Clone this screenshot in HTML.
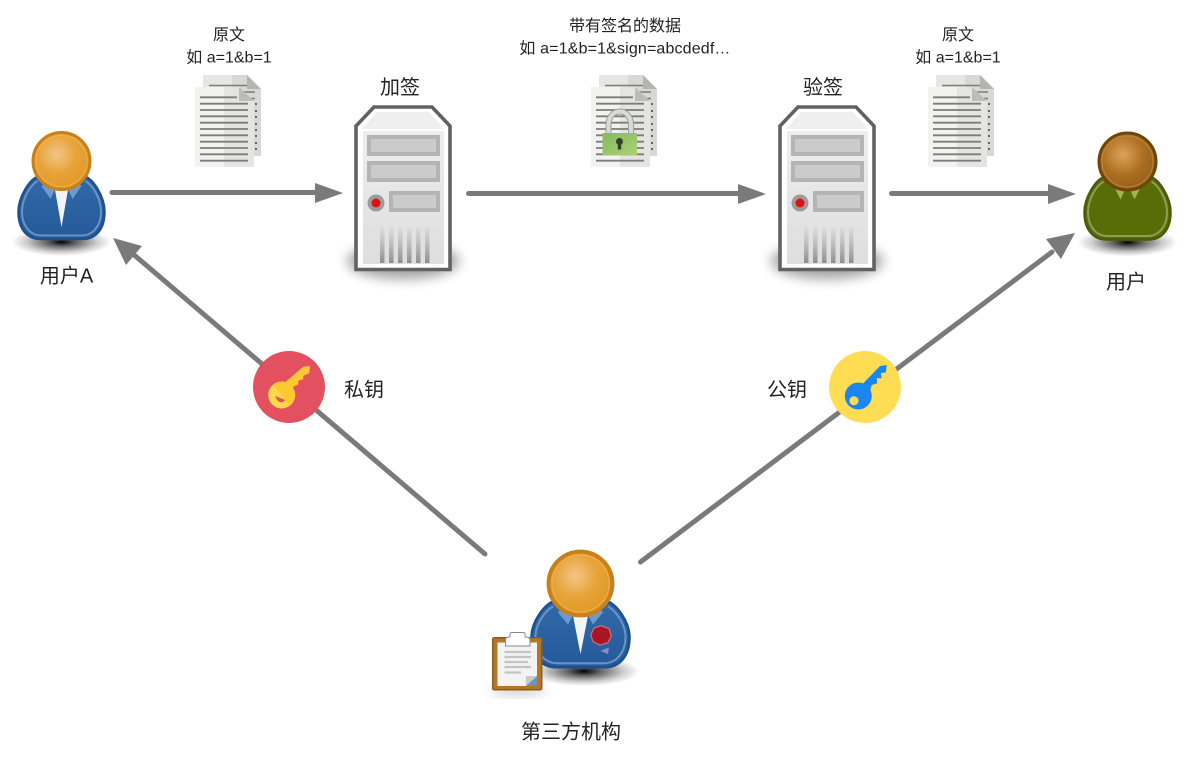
<!DOCTYPE html>
<html><head><meta charset="utf-8"><style>
html,body{margin:0;padding:0;background:#fff}
svg{display:block}
text{font-family:"Liberation Sans","Noto Sans CJK SC",sans-serif;fill:#222;text-anchor:middle}
</style></head><body>
<svg width="1189" height="759" viewBox="0 0 1189 759" xmlns="http://www.w3.org/2000/svg">
<defs>
<radialGradient id="sh"><stop offset="0" stop-color="#000"/><stop offset=".3" stop-color="#000" stop-opacity=".6"/><stop offset=".7" stop-color="#000" stop-opacity=".2"/><stop offset="1" stop-color="#000" stop-opacity="0"/></radialGradient>
<radialGradient id="head" cx=".42" cy=".38" r=".6"><stop offset="0" stop-color="#f3c588"/><stop offset=".55" stop-color="#e8a43a"/><stop offset="1" stop-color="#e09a26"/></radialGradient>
<radialGradient id="head2" cx=".42" cy=".38" r=".6"><stop offset="0" stop-color="#dca459"/><stop offset=".6" stop-color="#ad6f22"/><stop offset="1" stop-color="#97611a"/></radialGradient>
<linearGradient id="blue" x1="0" y1="0" x2="0" y2="1"><stop offset="0" stop-color="#3069aa"/><stop offset="1" stop-color="#255a9a"/></linearGradient>
<linearGradient id="srv" x1="0" y1="0" x2="0" y2="1"><stop offset="0" stop-color="#eeeeee"/><stop offset="1" stop-color="#dedede"/></linearGradient>
<linearGradient id="vent" x1="0" y1="0" x2="0" y2="1"><stop offset="0" stop-color="#aaa" stop-opacity=".1"/><stop offset="1" stop-color="#8e8e8e"/></linearGradient>
<linearGradient id="green" x1="0" y1="0" x2="1" y2="1"><stop offset="0" stop-color="#86b85e"/><stop offset="1" stop-color="#a9d275"/></linearGradient>
<filter id="bl" x="-30%" y="-60%" width="160%" height="220%"><feGaussianBlur stdDeviation="6"/></filter>

<g id="doc">
 <path d="M8 0H52L66 14V81H8Z" fill="#e6e7e3"/>
 <path d="M37 0H52L66 14V81H37Z" fill="#d8d9d5"/>
 <path d="M52 0L66 14H52Z" fill="#b4b5b2"/>
 <g stroke="#7c7c7a" stroke-width="1.600"><path d="M14 10.500H52M14 17H60M14 23.500H60"/></g>
 <path d="M0 12H44L59 26V92H0Z" fill="#f2f2f0"/>
 <path d="M29 12H44L59 26V92H29Z" fill="#e4e4e2"/>
 <path d="M44 12L59 26L44 26Z" fill="#bcbdbb"/>
 <g stroke="#7c7c7a" stroke-width="1.800">
  <path d="M5 22.300H42M5 28.700H53M5 35H53M5 41.300H53M5 47.700H53M5 54H53M5 60.300H53M5 66.700H53M5 73H53M5 79.300H53M5 85.700H53"/>
 </g>
 <g fill="#666"><rect x="60" y="28" width="2" height="2"/><rect x="60" y="35" width="2" height="2"/><rect x="60" y="41" width="2" height="2"/><rect x="60" y="48" width="2" height="2"/><rect x="60" y="54" width="2" height="2"/><rect x="60" y="60" width="2" height="2"/><rect x="60" y="67" width="2" height="2"/><rect x="60" y="73" width="2" height="2"/></g>
</g>

<g id="server">
 <ellipse cx="49" cy="156" rx="56" ry="18" fill="#000" opacity=".36" filter="url(#bl)"/>
 <path d="M20 2H78L96 21V164.500H2V21Z" fill="#fff" stroke="#626262" stroke-width="3.600"/>
 <path d="M23 7H75L90 24H8Z" fill="#efefef"/>
 <rect x="9" y="26" width="81" height="133" fill="url(#srv)"/>
 <g fill="#cbcbcb" stroke="#b4b4b4" stroke-width="4">
  <rect x="15" y="32" width="69" height="17"/><rect x="15" y="58" width="69" height="17"/><rect x="37" y="88" width="47" height="17"/>
 </g>
 <circle cx="22" cy="98" r="8.500" fill="#9c9c9c"/><circle cx="22" cy="98" r="4.500" fill="#e01010"/>
 <g fill="url(#vent)"><rect x="26" y="122" width="4.500" height="36"/><rect x="35" y="122" width="4.500" height="36"/><rect x="44" y="122" width="4.500" height="36"/><rect x="53" y="122" width="4.500" height="36"/><rect x="62" y="122" width="4.500" height="36"/><rect x="71" y="122" width="4.500" height="36"/></g>
</g>

<g id="personShadow"><ellipse cx="0" cy="81" rx="50" ry="14" fill="url(#sh)"/></g>
</defs>

<!-- connectors -->
<g stroke="#7a7a7a" stroke-width="5" stroke-linecap="round" fill="none">
 <path d="M112 192.500H318"/>
 <path d="M468.500 193.500H741"/>
 <path d="M891.500 193.500H1052"/>
 <path d="M485 554L133 254"/>
 <path d="M640.500 562L1052 252"/>
</g>
<g fill="#7a7a7a">
 <path d="M343 193L315 183V203Z"/>
 <path d="M766 194L738 184V204Z"/>
 <path d="M1076 194L1048 184V204Z"/>
 <path d="M113 238L142 246L126 265Z"/>
 <path d="M1075 233L1061 259L1046 239Z"/>
</g>

<!-- documents -->
<use href="#doc" x="195" y="75"/>
<use href="#doc" x="591" y="75"/>
<use href="#doc" x="928" y="75"/>
<!-- lock -->
<path d="M608.500 134V125C608.500 107 631 107 631 125V134" fill="none" stroke="#9c9e9a" stroke-width="6"/>
<path d="M608.500 134V125C608.500 107 631 107 631 125V134" fill="none" stroke="#d8dad6" stroke-width="4"/>
<rect x="602.500" y="133" width="34.500" height="22" fill="url(#green)"/>
<circle cx="619.500" cy="141.500" r="3.500" fill="#33402f"/><rect x="617.800" y="142" width="3.400" height="7.500" fill="#33402f"/>

<!-- servers -->
<use href="#server" x="354" y="105"/>
<use href="#server" x="778" y="105"/>

<!-- user A -->
<g transform="translate(61.500 161)">
 <use href="#personShadow"/>
 <path d="M-22 15C-32 18-43 36-43 51C-43 67-35 78-21 78H21C35 78 43 67 43 51C43 36 32 18 22 15Z" fill="url(#blue)" stroke="#1f4f8e" stroke-width="2.500"/>
 <path d="M-24 20C-32 25-39.500 38-39.500 51C-39.500 64-32 74.500-20 74.500H20C32 74.500 39.500 64 39.500 51C39.500 38 32 25 24 20" fill="none" stroke="#6a93c4" stroke-width="2"/>
 <path d="M-20 25L-11 38L-6 27L6 27L11 38L20 25L10 18H-10Z" fill="#6f9bcb"/>
 <path d="M-7 26L0 66L7 26Z" fill="#f4f4f4"/>
 <circle r="28.500" fill="url(#head)" stroke="#c9801a" stroke-width="3"/>
 <circle r="25.500" fill="none" stroke="#efb765" stroke-width="1.200" opacity=".6"/>
</g>

<!-- user right -->
<g transform="translate(1127.500 161.500)">
 <use href="#personShadow"/>
 <path d="M-22 15C-32 18-43 36-43 51C-43 67-35 78-21 78H21C35 78 43 67 43 51C43 36 32 18 22 15Z" fill="#5a6c08" stroke="#4b5a08" stroke-width="2.500"/>
 <path d="M-24 20C-32 25-39.500 38-39.500 51C-39.500 64-32 74.500-20 74.500H20C32 74.500 39.500 64 39.500 51C39.500 38 32 25 24 20" fill="none" stroke="#8e9f55" stroke-width="2"/>
 <path d="M-13 26L-7 38L-2 27ZM13 26L7 38L2 27Z" fill="#a1b548"/>
 <circle r="28.500" fill="url(#head2)" stroke="#6e4608" stroke-width="3"/>
 <circle r="25.500" fill="none" stroke="#c08b4a" stroke-width="1.200" opacity=".7"/>
</g>

<!-- third party -->
<g transform="translate(580.500 583.500) scale(1.140)">
 <ellipse cx="3" cy="77" rx="49" ry="13" fill="url(#sh)"/>
 <path d="M-22 15C-32 18-43 34-43 47C-43 63-35 73.500-21 73.500H21C35 73.500 43 63 43 47C43 34 32 18 22 15Z" fill="url(#blue)" stroke="#1f4f8e" stroke-width="2.200"/>
 <path d="M-24 20C-32 25-39.500 36-39.500 47C-39.500 60-32 70-20 70H20C32 70 39.500 60 39.500 47C39.500 36 32 25 24 20" fill="none" stroke="#6a93c4" stroke-width="1.800"/>
 <path d="M-20 25L-11 36L-6 27L6 27L11 36L20 25L10 18H-10Z" fill="#6f9bcb"/>
 <path d="M-7 26L0 62L7 26Z" fill="#f4f4f4"/>
 <path d="M18 37L25 39.500L27 46L24 52L17 54L11 51L9 45L12 39Z" fill="#a81526" stroke="#dc7070" stroke-width="1"/>
 <path d="M17.500 59L25 56L24 62Z" fill="#7f8fd0"/>
 <circle r="28" fill="url(#head)" stroke="#c9801a" stroke-width="3.500"/>
 <circle r="25" fill="none" stroke="#efb765" stroke-width="1" opacity=".6"/>
</g>
<!-- clipboard -->
<ellipse cx="518" cy="690" rx="28" ry="4" fill="#000" opacity=".25" filter="url(#bl)"/>
<rect x="492.700" y="637.700" width="49" height="52" rx="1.500" fill="#b3772a" stroke="#8c5c1c" stroke-width="1.500"/>
<path d="M497.500 642.500H537V676L526 686H497.500Z" fill="#f3f3f3"/>
<path d="M526 686L537 676V686Z" fill="#6f92b8"/>
<path d="M526 686V676H537Z" fill="#c9c9c9"/>
<path d="M505.500 646V639.500Q505.500 637 510 637V634Q510 632.500 512 632.500H523Q525 632.500 525 634V637Q530 637 530 639.500V646Z" fill="#fff" stroke="#888" stroke-width="1"/>
<g stroke="#c4c4c4" stroke-width="2.200"><path d="M504.500 652H531M504.500 657H531M504.500 662H528M504.500 667H531M504.500 672.500H521"/></g>

<!-- key badges -->
<circle cx="289" cy="387" r="36" fill="#e3505f"/>
<g transform="translate(289 387)">
 <path d="M-3.300 -5.300L14.300 -20.300L21 -21L20.300 -13.700L14.300 -11.300V-7.700L9.300 -6.300V-2.700L4.300 -.3L2 8L-8 0Z" fill="#fcc934"/>
 <circle cx="-7.300" cy="8" r="13.500" fill="#fdd848"/>
 <path d="M-7.300 -5.500A13.500 13.500 0 0 1 -7.300 21.500Z" fill="#fbc92f" transform="rotate(-40 -7.300 8)"/>
 <path d="M-14 9L-3.500 13Q-10 19-14 9Z" fill="#e3505f"/>
</g>
<circle cx="865" cy="387" r="36" fill="#fedd55"/>
<g transform="translate(865 387)">
 <path d="M-1.700 -3.700L15 -21L21.700 -22L21 -14.700L15.700 -13.700L16.700 -8.700H11.700L12.300 -3.700L6.700 -2L4 8L-8 0Z" fill="#1b86ef"/>
 <circle cx="-6.700" cy="9" r="13.500" fill="#1b86ef"/>
 <circle cx="-11" cy="13.700" r="4.500" fill="#fedd55"/>
</g>

<!-- labels -->
<text x="229" y="40" font-size="16">原文</text>
<text x="229" y="62.500" font-size="16">如 a=1&amp;b=1</text>
<text x="625" y="31" font-size="16">带有签名的数据</text>
<text x="625" y="53.500" font-size="16" letter-spacing=".15">如 a=1&amp;b=1&amp;sign=abcdedf…</text>
<text x="958" y="40" font-size="16">原文</text>
<text x="958" y="62.500" font-size="16">如 a=1&amp;b=1</text>
<text x="400" y="94" font-size="20">加签</text>
<text x="823" y="94" font-size="20">验签</text>
<text x="66.500" y="282.500" font-size="20">用户A</text>
<text x="1126" y="288.500" font-size="20">用户</text>
<text x="364" y="396.500" font-size="20">私钥</text>
<text x="787" y="396.500" font-size="20">公钥</text>
<text x="571" y="738.500" font-size="20">第三方机构</text>
</svg>
</body></html>
